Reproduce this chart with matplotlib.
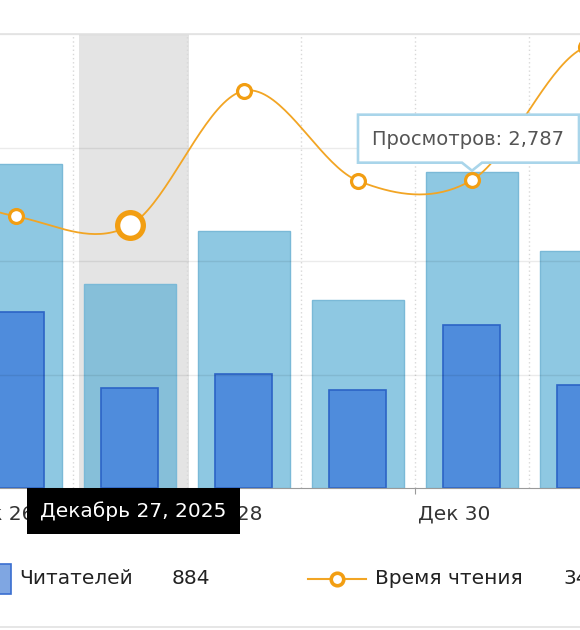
import numpy as np
import matplotlib.pyplot as plt
from matplotlib.patches import Rectangle, Polygon
from matplotlib.lines import Line2D
from matplotlib.transforms import ScaledTranslation

# data
days = ['Дек 26', 'Дек 27', 'Дек 28', 'Дек 29', 'Дек 30', 'Дек 31']
views = [2855, 1797, 2264, 1656, 2787, 2088]      # Просмотров
readers = [1551, 884, 1004, 863, 1436, 907]       # Читателей
read_time = [359, 347, 525, 406, 407, 583]        # Время чтения
read_time_prev = 404   # Dec 25, off screen, only steers the curve
read_time_next = 520   # Jan 1, off screen
hover = 1              # Dec 27 is under the cursor
tick_days = [0, 2, 4]
date_tip = 'Декабрь 27, 2025'

W, H = 580, 630
fig = plt.figure(figsize=(W / 100, H / 100), dpi=100)
ax = fig.add_axes([0, (H - 488) / H, 1, 454 / H])

x = np.arange(len(days))

# cursor band
ax.axvspan(hover - 0.45, hover + 0.52, color='#e4e4e4', zorder=0, lw=0)

# grid
for v in [1000, 2000, 3000, 4000]:
    ax.axhline(v, color='#000000', alpha=0.08, lw=1, zorder=3)
for b in np.arange(-0.5, len(days), 1):
    ax.axvline(b, color='#d8d8d8', lw=1, ls=(0, (1, 2)), zorder=0.5)

big_col = ['#8ec8e2'] * len(days)
big_col[hover] = '#86bfd9'
ax.bar(x, views, width=0.8, color=big_col, edgecolor='#7ab9d7', lw=1, zorder=1)
ax.bar(x, readers, width=0.5, color='#4f8cdc', edgecolor='#2c64c6', lw=1.2, zorder=2)

for s in ['top', 'left', 'right']:
    ax.spines[s].set_visible(False)
ax.spines['bottom'].set_color('#9a9a9a')
ax.set_yticks([])
ax.set_xticks(np.array(tick_days) - 0.5, [''] * len(tick_days))
ax.tick_params(axis='x', length=4.3, color='#9a9a9a')
# labels start just right of the cell boundary; drawn as text so the cut-off one still shows
off = ScaledTranslation(3 / 100, -26 / 100, fig.dpi_scale_trans)
for i in tick_days:
    ax.text(i - 0.5, 0, days[i], transform=ax.get_xaxis_transform() + off, ha='left', va='center',
            fontsize=14.5, color='#333333', clip_on=False)

# smoothed reading time line on its own scale
ax2 = ax.twinx()
ax2.axis('off')
xs = np.arange(-1, len(days) + 1)
ys = [read_time_prev] + read_time + [read_time_next]
cx, cy = [], []
for k in range(len(xs) - 1):
    y0 = ys[max(k - 1, 0)]
    y1, y2 = ys[k], ys[k + 1]
    y3 = ys[min(k + 2, len(ys) - 1)]
    m1, m2 = (y2 - y0) / 2, (y3 - y1) / 2
    t = np.linspace(0, 1, 40)
    h00 = 2 * t**3 - 3 * t**2 + 1
    h10 = t**3 - 2 * t**2 + t
    h01 = -2 * t**3 + 3 * t**2
    h11 = t**3 - t**2
    cx.extend(xs[k] + t)
    cy.extend(h00 * y1 + h10 * m1 + h01 * y2 + h11 * m2)
ax2.plot(cx, cy, color='#f2a524', lw=1.3, zorder=4)
ax2.plot(x, read_time, 'o', ms=10, mfc='white', mec='#f29e12', mew=2.3, zorder=5)
ax2.plot([hover], [read_time[hover]], 'o', ms=18.5, mfc='white', mec='#f29e12', mew=3.8, zorder=6)

# limits last, so the twin's autoscale cannot move them
ax.set_xlim(-16 / 114, (W - 16) / 114)
ax.set_ylim(0, 4000)
ax2.set_ylim(0, 600)

# overlay in pixel coordinates for tooltips and legend
ov = fig.add_axes([0, 0, 1, 1], zorder=10)
ov.set_xlim(0, W)
ov.set_ylim(H, 0)
ov.axis('off')


def to_px(a, xv, yv):
    dx, dy = a.transData.transform((xv, yv))
    return dx, H - dy


# value tooltip on Dec 30 column
px, py = to_px(ax, 4, views[4])
L, R, T, B = px - 114, px + 107, py - 57, py - 9
ov.add_patch(Polygon([(L, T), (R, T), (R, B), (px + 10, B), (px, py - 1), (px - 10, B), (L, B)],
                     closed=True, fc='white', ec='#a9d5ea', lw=1.9, zorder=1))
ov.text((L + R) / 2, (T + B) / 2 + 1, 'Просмотров: 2,787', ha='center', va='center',
        fontsize=14, color='#555555')

# date tooltip under the axis
dx, _ = to_px(ax, hover, 0)
ov.add_patch(Rectangle((dx - 103, 488), 213, 46, fc='black', ec='none', zorder=1))
ov.text(dx + 3, 511, date_tip, ha='center', va='center', fontsize=14.5, color='white')

# legend row
ly = 579
ov.add_patch(Rectangle((-18, ly - 15), 29, 30, fc='#7fa6e2', ec='#3a6ed0', lw=1.2))
ov.text(19, ly, 'Читателей', va='center', fontsize=14.5, color='#222222')
ov.text(172, ly, str(readers[hover]), va='center', fontsize=14.5, color='#222222')
ov.add_line(Line2D([308, 366], [ly, ly], color='#f2a524', lw=1.5))
ov.plot([337], [ly], 'o', ms=9, mfc='white', mec='#f29e12', mew=2.6)
ov.text(375, ly, 'Время чтения', va='center', fontsize=14.5, color='#222222')
ov.text(563, ly, str(read_time[hover]), va='center', fontsize=14.5, color='#222222')

ov.add_line(Line2D([0, W], [34, 34], color='#e2e2e2', lw=1.2))
ov.add_line(Line2D([0, W], [627, 627], color='#e2e2e2', lw=1.2))

fig.savefig('out.png', dpi=100)
